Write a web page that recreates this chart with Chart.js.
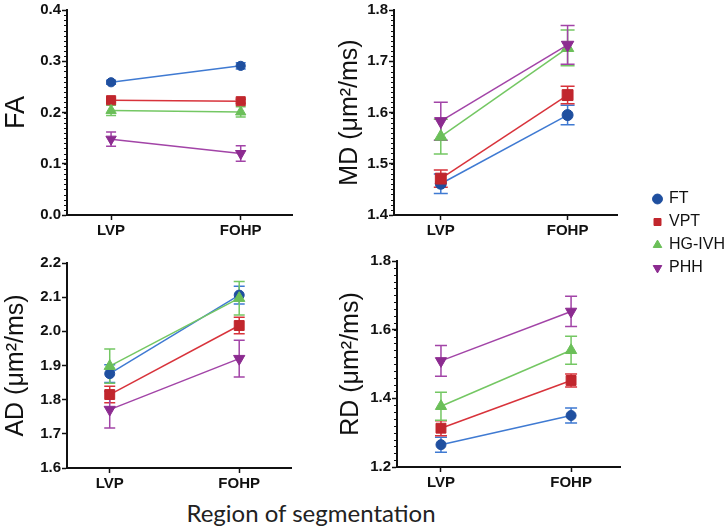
<!DOCTYPE html>
<html><head><meta charset="utf-8">
<script src="https://cdn.jsdelivr.net/npm/chart.js@4.4.1/dist/chart.umd.min.js"></script>
<style>
html,body{margin:0;padding:0;background:#fff;}
body{width:725px;height:529px;position:relative;overflow:hidden;}
canvas{position:absolute;}
#xt{position:absolute;left:0;width:622px;top:498px;text-align:center;font:24px Lato,"Open Sans",sans-serif;color:#222;line-height:29px;}
</style></head><body>
<canvas id="c1"></canvas><canvas id="c2"></canvas><canvas id="c3"></canvas><canvas id="c4"></canvas><canvas id="lg"></canvas>
<div id="xt">Region of segmentation</div>
<script>
// ---- data ----
const categories = ['LVP', 'FOHP'];
const seriesNames = ['FT', 'VPT', 'HG-IVH', 'PHH'];

const faFT  = [0.259, 0.291];
const faVPT = [0.224, 0.222];
const faHG  = [0.204, 0.201];
const faPHH = [0.148, 0.120];
const faErrFT  = [0.004, 0.006];
const faErrVPT = [0.004, 0.004];
const faErrHG  = [0.010, 0.010];
const faErrPHH = [0.014, 0.015];

const mdFT  = [1.461, 1.595];
const mdVPT = [1.471, 1.634];
const mdHG  = [1.553, 1.726];
const mdPHH = [1.583, 1.732];
const mdErrFT  = [0.019, 0.019];
const mdErrVPT = [0.017, 0.017];
const mdErrHG  = [0.034, 0.035];
const mdErrPHH = [0.037, 0.038];

const adFT  = [1.876, 2.106];
const adVPT = [1.815, 2.017];
const adHG  = [1.898, 2.097];
const adPHH = [1.771, 1.920];
const adErrFT  = [0.026, 0.026];
const adErrVPT = [0.024, 0.024];
const adErrHG  = [0.050, 0.049];
const adErrPHH = [0.054, 0.054];

const rdFT  = [1.265, 1.350];
const rdVPT = [1.313, 1.452];
const rdHG  = [1.377, 1.540];
const rdPHH = [1.509, 1.653];
const rdErrFT  = [0.022, 0.022];
const rdErrVPT = [0.022, 0.019];
const rdErrHG  = [0.041, 0.041];
const rdErrPHH = [0.045, 0.044];

const faTicks = [0.0, 0.1, 0.2, 0.3, 0.4];
const mdTicks = [1.4, 1.5, 1.6, 1.7, 1.8];
const adTicks = [1.6, 1.7, 1.8, 1.9, 2.0, 2.1, 2.2];
const rdTicks = [1.2, 1.4, 1.6, 1.8];

// ---- styles ----
const markerColors = ['#1f4f9f', '#c1262d', '#6bbf59', '#8c2b90'];
const lineColors   = ['#3f7ad2', '#d8333b', '#74c763', '#a244a7'];
const pointStyles  = ['circle', 'rect', 'triangle', 'triangle'];
const pointRots    = [0, 0, 0, 180];
const baseRadii    = [5, 7, 6.5, 6.5];
const SANS = '"Liberation Sans", Arial, Helvetica, sans-serif';
const tickFont = {family: SANS, size: 15, weight: 'bold'};

const errorBarPlugin = {
  id: 'errorBars',
  beforeDatasetsDraw(chart, args, opts) {
    const ctx = chart.ctx, ys = chart.scales.y;
    chart.data.datasets.forEach((ds, i) => {
      const meta = chart.getDatasetMeta(i);
      const errs = opts.errors[i];
      ctx.save();
      ctx.strokeStyle = ds.borderColor;
      ctx.lineWidth = 1.5;
      meta.data.forEach((pt, j) => {
        const v = ds.data[j].y, e = errs[j];
        const yt = ys.getPixelForValue(v + e), yb = ys.getPixelForValue(v - e);
        const x = pt.x, hw = opts.cap / 2;
        ctx.beginPath();
        ctx.moveTo(x, yt); ctx.lineTo(x, yb);
        ctx.moveTo(x - hw, yt); ctx.lineTo(x + hw, yt);
        ctx.moveTo(x - hw, yb); ctx.lineTo(x + hw, yb);
        ctx.stroke();
      });
      ctx.restore();
    });
  }
};

const minorTickPlugin = {
  id: 'minorTicks',
  afterDraw(chart, args, opts) {
    if (!opts.step) return;
    const ctx = chart.ctx, ys = chart.scales.y, left = chart.chartArea.left;
    const n = Math.round((ys.max - ys.min) / opts.step);
    ctx.save();
    ctx.strokeStyle = '#111';
    ctx.lineWidth = 1;
    for (let k = 1; k < n; k++) {
      const v = ys.min + k * opts.step;
      const y = Math.round(ys.getPixelForValue(v)) + 0.5;
      ctx.beginPath(); ctx.moveTo(left - 3, y); ctx.lineTo(left, y); ctx.stroke();
    }
    ctx.restore();
  }
};

const panels = [
  {id: 'c1', title: 'FA', ticks: faTicks, minor: 0.01,
   values: [faFT, faVPT, faHG, faPHH], errors: [faErrFT, faErrVPT, faErrHG, faErrPHH],
   L: 0, T: 0, W: 300, H: 240, yW: 67, padTop: 9, padRight: 3, xH: 25, xMin: -0.34, xMax: 1.4,
   titleSize: 27, titlePad: 0, ms: 0.92, cap: 10},
  {id: 'c2', title: 'MD (μm²/ms)', ticks: mdTicks, minor: 0.01,
   values: [mdFT, mdVPT, mdHG, mdPHH], errors: [mdErrFT, mdErrVPT, mdErrHG, mdErrPHH],
   L: 300, T: 0, W: 326, H: 240, yW: 94, padTop: 10, padRight: 3, xH: 25, xMin: -0.369, xMax: 1.392,
   titleSize: 25, titlePad: 35, ms: 1.1, cap: 14},
  {id: 'c3', title: 'AD (μm²/ms)', ticks: adTicks, minor: 0,
   values: [adFT, adVPT, adHG, adPHH], errors: [adErrFT, adErrVPT, adErrHG, adErrPHH],
   L: 0, T: 253, W: 299, H: 240, yW: 67, padTop: 9, padRight: 3, xH: 25, xMin: -0.33, xMax: 1.40,
   titleSize: 25, titlePad: 1, ms: 1.0, cap: 11},
  {id: 'c4', title: 'RD (μm²/ms)', ticks: rdTicks, minor: 0.02,
   values: [rdFT, rdVPT, rdHG, rdPHH], errors: [rdErrFT, rdErrVPT, rdErrHG, rdErrPHH],
   L: 300, T: 251, W: 328, H: 241, yW: 97, padTop: 9, padRight: 3, xH: 25, xMin: -0.338, xMax: 1.376,
   titleSize: 25, titlePad: 36, ms: 1.0, cap: 12}
];

panels.forEach(p => {
  const cv = document.getElementById(p.id);
  cv.width = p.W; cv.height = p.H;
  cv.style.left = p.L + 'px'; cv.style.top = p.T + 'px';
  cv.style.width = p.W + 'px'; cv.style.height = p.H + 'px';
  const step = Math.round((p.ticks[1] - p.ticks[0]) * 1000) / 1000;
  new Chart(cv, {
    type: 'line',
    data: {
      datasets: seriesNames.map((name, i) => ({
        label: name,
        data: p.values[i].map((v, j) => ({x: j, y: v})),
        borderColor: lineColors[i],
        backgroundColor: markerColors[i],
        pointBackgroundColor: markerColors[i],
        pointBorderColor: markerColors[i],
        pointStyle: pointStyles[i],
        pointRotation: pointRots[i],
        pointRadius: baseRadii[i] * p.ms,
        pointBorderWidth: 1,
        borderWidth: 1.5,
        order: 3 - i
      }))
    },
    options: {
      responsive: false, animation: false, events: [],
      layout: {padding: {top: p.padTop, right: p.padRight, left: 0, bottom: 0}},
      plugins: {
        legend: {display: false}, tooltip: {enabled: false},
        errorBars: {errors: p.errors, cap: p.cap},
        minorTicks: {step: p.minor}
      },
      scales: {
        x: {
          type: 'linear', min: p.xMin, max: p.xMax,
          afterBuildTicks: s => { s.ticks = categories.map((c, j) => ({value: j})); },
          afterFit: s => { s.height = p.xH; },
          grid: {display: true, drawOnChartArea: false, drawTicks: true, tickLength: 5, tickColor: '#111', tickWidth: 1.5},
          border: {display: true, color: '#111', width: 2},
          ticks: {callback: v => categories[v], font: tickFont, color: '#111', padding: 2, maxRotation: 0, autoSkip: false}
        },
        y: {
          min: p.ticks[0], max: p.ticks[p.ticks.length - 1],
          afterBuildTicks: s => { s.ticks = p.ticks.map(v => ({value: v})); },
          afterFit: s => { s.width = p.yW; },
          grid: {display: true, drawOnChartArea: false, drawTicks: true, tickLength: 5, tickColor: '#111', tickWidth: 1.5},
          border: {display: true, color: '#111', width: 2},
          ticks: {stepSize: step, callback: v => Number(v).toFixed(1), font: tickFont, color: '#111', padding: 1},
          title: {display: true, text: p.title, color: '#111',
                  font: {family: SANS, size: p.titleSize}, padding: {top: p.titlePad, bottom: 0}}
        }
      }
    },
    plugins: [errorBarPlugin, minorTickPlugin]
  });
});

// legend
const lg = document.getElementById('lg');
lg.width = 180; lg.height = 110;
lg.style.left = '647px'; lg.style.top = '184px';
lg.style.width = '180px'; lg.style.height = '110px';
new Chart(lg, {
  type: 'line',
  data: {
    datasets: seriesNames.map((name, i) => ({
      label: name, data: [],
      borderColor: markerColors[i], backgroundColor: markerColors[i],
      pointBackgroundColor: markerColors[i], pointBorderColor: markerColors[i],
      pointStyle: pointStyles[i], pointRotation: pointRots[i], borderWidth: 1
    }))
  },
  options: {
    responsive: false, animation: false, events: [],
    layout: {padding: 0},
    scales: {x: {display: false}, y: {display: false}},
    plugins: {
      tooltip: {enabled: false},
      legend: {position: 'left', align: 'start',
        labels: {usePointStyle: true, boxWidth: 7, boxHeight: 7, padding: 7, color: '#111',
                 font: {family: SANS, size: 16}}}
    }
  }
});
</script>
</body></html>
